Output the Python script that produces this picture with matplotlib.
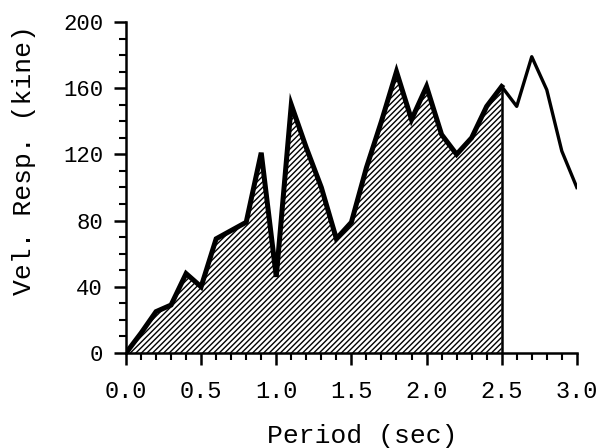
import numpy as np
import matplotlib.pyplot as plt
from matplotlib.ticker import MultipleLocator

# velocity response spectrum
period = [0.0, 0.1, 0.2, 0.3, 0.4, 0.5, 0.6, 0.7, 0.8, 0.9, 1.0,
          1.1, 1.2, 1.3, 1.4, 1.5, 1.6, 1.7, 1.8, 1.9, 2.0,
          2.1, 2.2, 2.3, 2.4, 2.5, 2.6, 2.7, 2.8, 2.9, 3.0]
vel = [0, 12, 25, 29, 48, 40, 69, 74, 79, 121, 46,
       150, 124, 100, 69, 79, 112, 140, 170, 141, 161,
       132, 120, 130, 149, 161, 149, 179, 159, 122, 100]
t_cut = 2.5

plt.rcParams['font.family'] = ['Liberation Mono', 'DejaVu Sans Mono']
plt.rcParams['hatch.linewidth'] = 1.0

fig = plt.figure(figsize=(6.13, 4.48), dpi=100)
ax = fig.add_axes([0.2055, 0.212, 0.7355, 0.739])

p = np.array(period)
v = np.array(vel)
inside = p <= t_cut + 1e-9
after = p >= t_cut - 1e-9

ax.fill_between(p[inside], 0, v[inside], facecolor='white', edgecolor='black',
                hatch='//////', linewidth=0)
ax.plot(p[inside], v[inside], color='black', lw=3.6, solid_joinstyle='miter')
ax.plot(p[after], v[after], color='black', lw=2.4)
ax.plot([t_cut, t_cut], [0, v[inside][-1]], color='black', lw=1.8)

ax.set_xlim(0, 3.0)
ax.set_ylim(0, 200)
ax.xaxis.set_major_locator(MultipleLocator(0.5))
ax.xaxis.set_minor_locator(MultipleLocator(0.1))
ax.yaxis.set_major_locator(MultipleLocator(40))
ax.yaxis.set_minor_locator(MultipleLocator(10))
ax.xaxis.set_major_formatter(plt.FuncFormatter(lambda x, pos: f"{x:.1f}"))

for s in ['top', 'right']:
    ax.spines[s].set_visible(False)
for s in ['left', 'bottom']:
    ax.spines[s].set_linewidth(1.8)

ax.tick_params(which='major', direction='out', length=8.5, width=1.8)
ax.tick_params(which='minor', direction='out', length=5, width=1.5)
ax.tick_params(axis='x', which='major', labelsize=17, pad=11)
ax.tick_params(axis='y', which='major', labelsize=16, pad=8)

ax.set_xlabel('Period (sec)', fontsize=19)
ax.xaxis.set_label_coords(0.523, -0.25)
ax.xaxis.label.set_va('center')
ax.set_ylabel('Vel. Resp. (kine)', fontsize=19)
ax.yaxis.set_label_coords(-0.226, 0.583)
ax.yaxis.label.set_va('center')

fig.savefig('out.png', dpi=100)
